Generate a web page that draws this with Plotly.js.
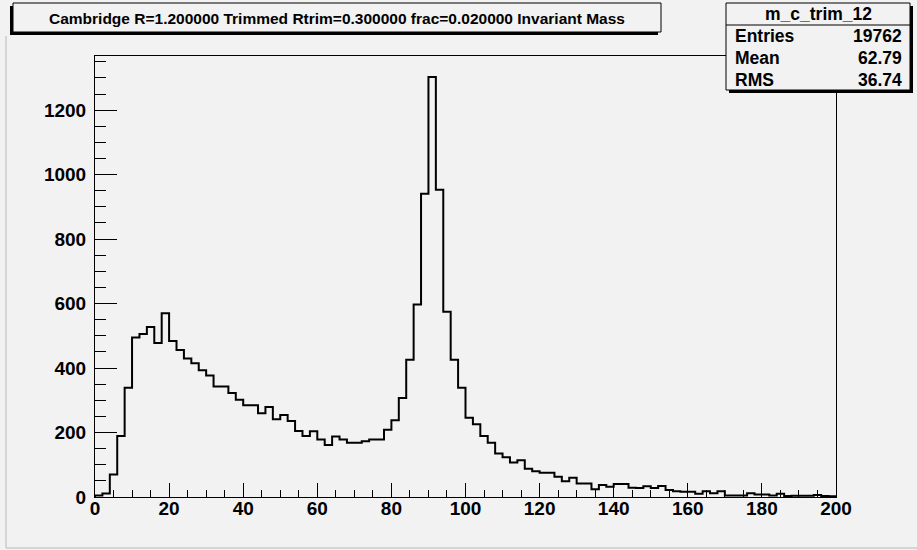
<!DOCTYPE html>
<html>
<head>
<meta charset="utf-8">
<script src="https://cdn.plot.ly/plotly-3.0.1.min.js"></script>
<style>
  html, body { margin: 0; padding: 0; background: #f2f2f2; }
  #chart { width: 917px; height: 550px; }
</style>
</head>
<body>
<div id="chart"></div>
<script>
// Histogram definition: 100 bins from 0 to 200
const histName = "m_c_trim_12";
const histTitle = "Cambridge R=1.200000 Trimmed Rtrim=0.300000 frac=0.020000 Invariant Mass";
const xMin = 0;
const xMax = 200;
const binCounts = [
  5, 11, 70, 189, 339, 495, 506, 527, 478, 570,
  484, 456, 430, 415, 393, 377, 343, 343, 323, 302,
  285, 285, 260, 279, 241, 254, 236, 205, 189, 204,
  178, 161, 188, 178, 168, 168, 173, 178, 178, 209,
  238, 307, 426, 597, 941, 1303, 953, 575, 426, 339,
  246, 226, 189, 168, 135, 123, 107, 114, 88, 80,
  75, 75, 63, 49, 60, 42, 42, 24, 37, 32,
  40, 40, 29, 28, 33, 28, 34, 22, 18, 16,
  16, 10, 18, 12, 18, 5, 5, 5, 12, 8,
  8, 5, 10, 3, 4, 4, 4, 6, 3, 2
];
const statLabels = ["Entries", "Mean", "RMS"];
const statValues = ["19762", "62.79", "36.74"];

// Build step outline from the bins
const nBins = binCounts.length;
const bw = (xMax - xMin) / nBins;
const xs = [xMin], ys = [0];
for (let i = 0; i < nBins; i++) { xs.push(xMin + i * bw); ys.push(binCounts[i]); }
xs.push(xMax); ys.push(binCounts[nBins - 1]);
xs.push(xMax); ys.push(0);

// Layout geometry (pixels)
const W = 917, H = 550;
const mL = 95, mR = 81, mT = 56, mB = 53;
const pw = W - mL - mR, ph = H - mT - mB;
const px = v => (v - mL) / pw;
const py = v => (H - mB - v) / ph;

const bg = "#f2f2f2";
const shapes = [
  {type: "line", xref: "paper", yref: "paper", x0: px(6), x1: px(6), y0: py(36), y1: py(548), line: {color: "#b8b8b8", width: 1}},
  {type: "line", xref: "paper", yref: "paper", x0: px(6), x1: px(917), y0: py(548), y1: py(548), line: {color: "#b8b8b8", width: 1}},
  {type: "rect", xref: "paper", yref: "paper", x0: px(10), x1: px(658), y0: py(6), y1: py(35), fillcolor: "#000", line: {width: 0}},
  {type: "rect", xref: "paper", yref: "paper", x0: px(13), x1: px(661), y0: py(3), y1: py(32), fillcolor: bg, line: {color: "#000", width: 1}},
  {type: "rect", xref: "paper", yref: "paper", x0: px(729), x1: px(913), y0: py(6), y1: py(93), fillcolor: "#000", line: {width: 0}},
  {type: "rect", xref: "paper", yref: "paper", x0: px(726), x1: px(910), y0: py(3), y1: py(90), fillcolor: bg, line: {color: "#000", width: 1}},
  {type: "line", xref: "paper", yref: "paper", x0: px(726), x1: px(910), y0: py(25), y1: py(25), line: {color: "#000", width: 1}}
];

const fontFam = "Liberation Sans, Arial, sans-serif";
const annotations = [
  {xref: "paper", yref: "paper", x: px(337), y: py(18), text: histTitle, showarrow: false,
   xanchor: "center", yanchor: "middle", font: {family: fontFam, size: 15.5, weight: "bold", color: "#000"}},
  {xref: "paper", yref: "paper", x: px(818), y: py(14), text: histName, showarrow: false,
   xanchor: "center", yanchor: "middle", font: {family: fontFam, size: 17.5, weight: "bold", color: "#000"}}
];
const rowY = [36, 58, 80];
for (let i = 0; i < statLabels.length; i++) {
  annotations.push({xref: "paper", yref: "paper", x: px(733), y: py(rowY[i]), text: statLabels[i], showarrow: false,
    xanchor: "left", yanchor: "middle", font: {family: fontFam, size: 17.5, weight: "bold", color: "#000"}});
  annotations.push({xref: "paper", yref: "paper", x: px(904), y: py(rowY[i]), text: statValues[i], showarrow: false,
    xanchor: "right", yanchor: "middle", font: {family: fontFam, size: 17.5, weight: "bold", color: "#000"}});
}

const trace = {
  x: xs, y: ys, type: "scatter", mode: "lines",
  line: {shape: "hv", color: "#000", width: 2},
  hoverinfo: "skip", showlegend: false
};

const layout = {
  width: W, height: H,
  margin: {l: mL, r: mR, t: mT, b: mB, pad: 0},
  paper_bgcolor: bg, plot_bgcolor: bg,
  showlegend: false,
  xaxis: {
    range: [xMin, xMax], dtick: 20, tick0: 0,
    ticks: "inside", ticklen: 14, tickwidth: 1, tickcolor: "#000",
    minor: {dtick: 5, ticks: "inside", ticklen: 7, tickwidth: 1, tickcolor: "#000"},
    showline: true, linecolor: "#000", linewidth: 1, mirror: true,
    showgrid: false, zeroline: false,
    ticklabelstandoff: -6,
    tickfont: {family: fontFam, size: 19, weight: "bold", color: "#000"}
  },
  yaxis: {
    range: [0, 1368], dtick: 200, tick0: 0,
    ticks: "inside", ticklen: 22, tickwidth: 1, tickcolor: "#000",
    minor: {dtick: 50, ticks: "inside", ticklen: 11, tickwidth: 1, tickcolor: "#000"},
    showline: true, linecolor: "#000", linewidth: 1, mirror: true,
    showgrid: false, zeroline: false,
    ticklabelstandoff: 4,
    tickfont: {family: fontFam, size: 19, weight: "bold", color: "#000"}
  },
  shapes: shapes,
  annotations: annotations
};

Plotly.newPlot("chart", [trace], layout, {displayModeBar: false, staticPlot: true});
</script>
</body>
</html>
